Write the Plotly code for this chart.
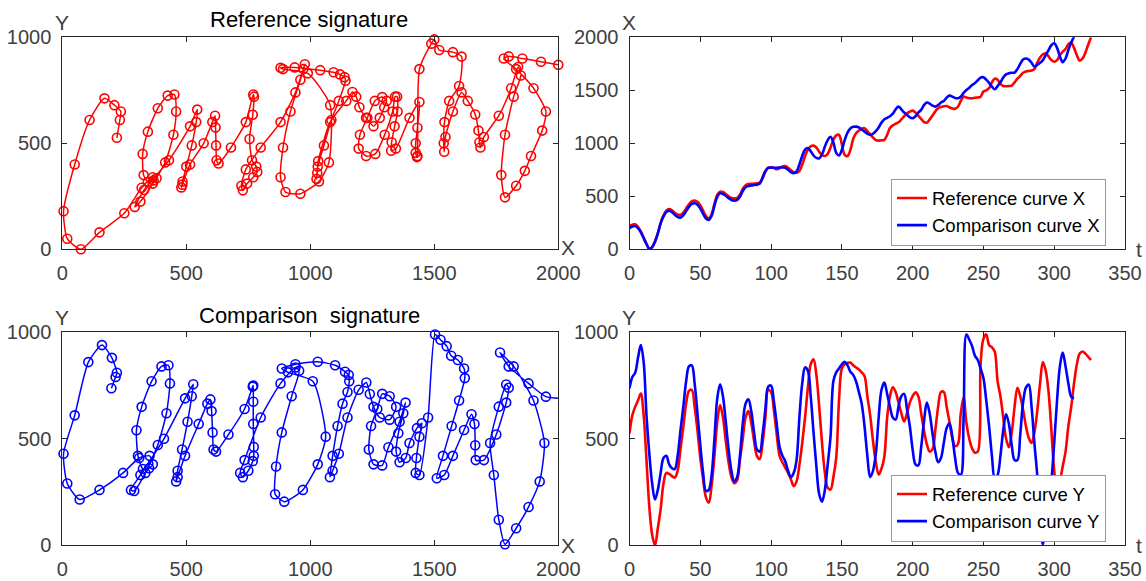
import plotly.graph_objects as go

# ---------------- data (sampled every 2 time units) ----------------
x_ref = [220, 232, 236, 210, 170, 110, 50, 5, 20, 75,
         150, 250, 320, 365, 380, 368, 345, 328, 324, 345,
         385, 425, 452, 459, 448, 415, 365, 315, 292, 330,
         430, 515, 544, 540, 522, 500, 485, 480, 484, 515,
         570, 605, 616, 618, 620, 622, 630, 680, 740, 770,
         773, 768, 755, 765, 782, 786, 770, 745, 728, 722,
         740, 800, 880, 940, 972, 978, 960, 920, 890, 880,
         900, 960, 1035, 1075, 1080, 990, 890, 880, 937, 1040,
         1094, 1120, 1138, 1142, 1115, 1085, 1055, 1030, 1025, 1028,
         1032, 1080, 1145, 1170, 1185, 1198, 1225, 1255, 1280, 1298,
         1308, 1290, 1260, 1230, 1200, 1195, 1225, 1262, 1300, 1332,
         1342, 1350, 1352, 1340, 1328, 1326, 1345, 1400, 1440, 1432,
         1425, 1425, 1430, 1432, 1440, 1488, 1500, 1520, 1575, 1610,
         1600, 1560, 1541, 1538, 1540, 1545, 1575, 1610, 1635, 1665,
         1678, 1682, 1686, 1700, 1760, 1810, 1838, 1849, 1820, 1785,
         1770, 1785, 1830, 1865, 1890, 1935, 1950, 1900, 1830, 1780,
         1800, 1855, 1930, 2000]

y_ref = [526, 610, 650, 680, 712, 610, 400, 180, 50, 0,
         80, 170, 290, 340, 335, 325, 318, 350, 450, 555,
         665, 725, 730, 650, 540, 410, 310, 225, 200, 280,
         420, 580, 659, 600, 490, 390, 320, 292, 305, 400,
         500, 600, 630, 575, 490, 420, 405, 480, 600, 730,
         720, 635, 520, 420, 390, 365, 340, 310, 278, 300,
         377, 480, 600, 740, 850, 873, 800, 650, 480, 340,
         270, 262, 320, 410, 680, 830, 850, 856, 858, 845,
         835, 825, 812, 795, 700, 610, 490, 390, 332, 360,
         416, 600, 700, 742, 720, 670, 620, 581, 620, 670,
         700, 718, 700, 620, 540, 475, 440, 450, 540, 650,
         720, 720, 650, 580, 505, 465, 475, 620, 695, 573,
         500, 455, 435, 440, 850, 970, 990, 940, 930, 909,
         770, 700, 600, 500, 460, 530, 650, 740, 700, 636,
         560, 505, 480, 530, 630, 760, 860, 820, 720, 540,
         350, 245, 300, 370, 440, 560, 650, 760, 850, 900,
         910, 900, 885, 870]

x_cmp = [198, 215, 220, 200, 160, 105, 50, 5, 20, 70,
         150, 245, 310, 352, 365, 350, 325, 305, 299, 320,
         360, 400, 428, 434, 420, 385, 335, 290, 277, 315,
         410, 495, 528, 522, 505, 483, 465, 459, 465, 495,
         550, 585, 597, 602, 606, 610, 620, 670, 735, 768,
         770, 770, 770, 772, 772, 768, 750, 728, 717, 735,
         800, 880, 940, 955, 925, 885, 862, 858, 895, 970,
         1030, 1062, 1010, 910, 885, 940, 1030, 1100, 1140, 1155,
         1157, 1150, 1130, 1110, 1090, 1079, 1090, 1115, 1150, 1195,
         1226, 1240, 1255, 1280, 1320, 1346, 1320, 1290, 1270, 1245,
         1236, 1255, 1290, 1315, 1360, 1384, 1375, 1355, 1346, 1360,
         1385, 1400, 1430, 1450, 1440, 1428, 1425, 1440, 1475, 1503,
         1525, 1550, 1568, 1595, 1620, 1623, 1600, 1570, 1535, 1510,
         1540, 1575, 1620, 1650, 1662, 1665, 1667, 1700, 1750, 1790,
         1800, 1790, 1760, 1725, 1740, 1760, 1785, 1830, 1880, 1925,
         1944, 1900, 1820, 1765, 1800, 1880, 1950, 2005]

y_cmp = [737, 790, 810, 880, 940, 860, 610, 430, 290, 215,
         260, 340, 410, 420, 380, 362, 358, 420, 540, 650,
         770, 840, 845, 760, 620, 471, 340, 255, 260, 330,
         500, 690, 756, 700, 580, 450, 350, 300, 320, 420,
         570, 665, 685, 630, 530, 450, 440, 520, 640, 745,
         750, 674, 570, 462, 420, 395, 350, 320, 340, 400,
         600, 760, 835, 820, 700, 530, 370, 240, 205, 260,
         380, 510, 770, 812, 830, 850, 862, 845, 815, 800,
         770, 720, 665, 560, 420, 320, 350, 430, 600, 730,
         764, 710, 650, 600, 590, 650, 700, 711, 640, 560,
         450, 380, 375, 460, 580, 670, 620, 526, 440, 390,
         410, 480, 550, 573, 510, 410, 340, 330, 600, 990,
         965, 935, 890, 870, 830, 785, 680, 560, 420, 315,
         330, 420, 541, 615, 570, 470, 400, 400, 520, 670,
         740, 755, 651, 480, 330, 120, 5, 80, 180, 300,
         480, 680, 840, 905, 840, 760, 698, 690]

T_STEP = 2
n_ref = min(len(x_ref), len(y_ref))
n_cmp = min(len(x_cmp), len(y_cmp))
x_ref, y_ref = x_ref[:n_ref], y_ref[:n_ref]
x_cmp, y_cmp = x_cmp[:n_cmp], y_cmp[:n_cmp]
t_ref = [i * T_STEP for i in range(n_ref)]
t_cmp = [i * T_STEP for i in range(n_cmp)]

RED = "#FF0000"
BLUE = "#0000FF"
W, H = 1146, 581
FONT = "Liberation Sans, Arial, sans-serif"


def fx(p):
    return p / W


def fy(p):
    return 1 - p / H


fig = go.Figure()

sig_line = dict(width=1.5, shape="spline", smoothing=0.6)
fig.add_trace(go.Scatter(x=x_ref, y=y_ref, mode="lines+markers",
                         line=dict(color=RED, **sig_line),
                         marker=dict(symbol="circle-open", size=9, color=RED, line=dict(width=1.6)),
                         xaxis="x", yaxis="y", showlegend=False, cliponaxis=False))
fig.add_trace(go.Scatter(x=x_cmp, y=y_cmp, mode="lines+markers",
                         line=dict(color=BLUE, **sig_line),
                         marker=dict(symbol="circle-open", size=9, color=BLUE, line=dict(width=1.6)),
                         xaxis="x3", yaxis="y3", showlegend=False, cliponaxis=False))

ts_line = dict(width=2.6, shape="spline", smoothing=1.0)
fig.add_trace(go.Scatter(x=t_ref, y=x_ref, mode="lines", name="Reference curve X",
                         line=dict(color=RED, **ts_line), xaxis="x2", yaxis="y2", legend="legend"))
fig.add_trace(go.Scatter(x=t_cmp, y=x_cmp, mode="lines", name="Comparison curve X",
                         line=dict(color=BLUE, **ts_line), xaxis="x2", yaxis="y2", legend="legend"))
fig.add_trace(go.Scatter(x=t_ref, y=y_ref, mode="lines", name="Reference curve Y",
                         line=dict(color=RED, **ts_line), xaxis="x4", yaxis="y4", legend="legend2"))
fig.add_trace(go.Scatter(x=t_cmp, y=y_cmp, mode="lines", name="Comparison curve Y",
                         line=dict(color=BLUE, **ts_line), xaxis="x4", yaxis="y4", legend="legend2"))

ax = dict(showline=True, mirror="ticks", linecolor="#262626", linewidth=1,
          ticks="inside", ticklen=5, tickwidth=1, tickcolor="#262626",
          showgrid=False, zeroline=False, automargin=False,
          tickfont=dict(family=FONT, size=20, color="#404040"))

xl = [fx(62.3), fx(558.3)]
xr = [fx(629.5), fx(1125)]
yt = [fy(249.3), fy(37.3)]
yb = [fy(545.3), fy(332.3)]

leg_common = dict(xanchor="right", yanchor="bottom",
                  bgcolor="white", bordercolor="#9a9a9a", borderwidth=1,
                  font=dict(family=FONT, size=18.5, color="black"), itemwidth=30, tracegroupgap=0)

fig.update_layout(
    width=W, height=H, autosize=False,
    margin=dict(l=0, r=0, t=0, b=0, autoexpand=False),
    paper_bgcolor="white", plot_bgcolor="white",
    font=dict(family=FONT, color="#404040"),
    xaxis=dict(ax, domain=xl, range=[0, 2000], tickvals=[0, 500, 1000, 1500, 2000], anchor="y", ticklabelstandoff=6),
    yaxis=dict(ax, domain=yt, range=[0, 1000], tickvals=[0, 500, 1000], anchor="x", ticklabelstandoff=6),
    xaxis2=dict(ax, domain=xr, range=[0, 350], tickvals=list(range(0, 351, 50)), anchor="y2", ticklabelstandoff=6),
    yaxis2=dict(ax, domain=yt, range=[0, 2000], tickvals=[0, 500, 1000, 1500, 2000], anchor="x2", ticklabelstandoff=6),
    xaxis3=dict(ax, domain=xl, range=[0, 2000], tickvals=[0, 500, 1000, 1500, 2000], anchor="y3", ticklabelstandoff=6),
    yaxis3=dict(ax, domain=yb, range=[0, 1000], tickvals=[0, 500, 1000], anchor="x3", ticklabelstandoff=6),
    xaxis4=dict(ax, domain=xr, range=[0, 350], tickvals=list(range(0, 351, 50)), anchor="y4", ticklabelstandoff=6),
    yaxis4=dict(ax, domain=yb, range=[0, 1000], tickvals=[0, 500, 1000], anchor="x4", ticklabelstandoff=6),
    legend=dict(leg_common, x=fx(1106), y=fy(245.5)),
    legend2=dict(leg_common, x=fx(1106), y=fy(541.5)),
)

annots = [
    ("Reference signature", 309, 19, 22, "black"),
    ("Comparison\u00a0 signature", 309, 315, 22, "black"),
    ("Y", 61.7, 22.5, 21, "#404040"),
    ("X", 567.5, 248, 21, "#404040"),
    ("Y", 61.7, 317.5, 21, "#404040"),
    ("X", 567.5, 545, 21, "#404040"),
    ("X", 629, 22.5, 21, "#404040"),
    ("t", 1139, 249, 21, "#404040"),
    ("Y", 628.5, 317.5, 21, "#404040"),
    ("t", 1139, 545, 21, "#404040"),
]
for txt, xp, yp, sz, col in annots:
    fig.add_annotation(text=txt, x=fx(xp), y=fy(yp), xref="paper", yref="paper",
                       xanchor="center", yanchor="middle", showarrow=False,
                       font=dict(family=FONT, size=sz, color=col))

fig.write_html("out.html", config={"displayModeBar": False},
               post_script="document.body.style.margin='0px';document.body.style.overflow='hidden';")
